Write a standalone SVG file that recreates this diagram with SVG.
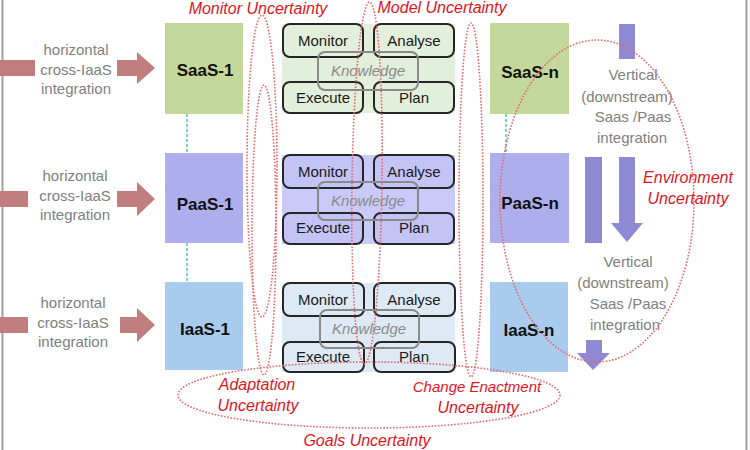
<svg xmlns="http://www.w3.org/2000/svg" width="750" height="450" viewBox="0 0 750 450">
<defs>
<style>
.gt{font-family:"Liberation Sans",Arial,sans-serif;font-size:15px;fill:#808080;text-anchor:middle}
.bl{font-family:"Liberation Sans",Arial,sans-serif;font-size:17px;font-weight:bold;fill:#111;text-anchor:middle}
.mt{font-family:"Liberation Sans",Arial,sans-serif;font-size:15px;fill:#1a1a1a;text-anchor:middle}
.kt{font-family:"Liberation Sans",Arial,sans-serif;font-size:15px;font-style:italic;fill:#8a8a8a;text-anchor:middle}
.rt{font-family:"Liberation Sans",Arial,sans-serif;font-size:16px;font-style:italic;fill:#e0141e;text-anchor:middle}
.mb{stroke:#262626;stroke-width:2}
.kb{fill:none;stroke:#8a8a8a;stroke-width:2}
.dot{fill:none;stroke:#e36a6a;stroke-width:1.6;stroke-dasharray:1.6 1.6}
.ha{fill:#c07f7e}
.va{fill:#8f88d2}
.tl{stroke:#2bb5a8;stroke-width:1.2;stroke-dasharray:3 2}
</style>
</defs>
<rect width="750" height="450" fill="#fff"/>
<line x1="2.5" y1="0" x2="2.5" y2="450" stroke="#a0a0a0" stroke-width="2"/>
<line x1="746.5" y1="0" x2="746.5" y2="450" stroke="#a0a0a0" stroke-width="2"/>

<g id="connectors">
<line class="tl" x1="187" y1="114" x2="187" y2="153"/>
<line class="tl" x1="187" y1="243" x2="187" y2="282"/>
<line class="tl" x1="506" y1="114" x2="506" y2="153"/>
</g>

<g id="horizontal-1">
<rect class="ha" x="0" y="60" width="35" height="16"/>
<text class="gt" x="76" y="55">horizontal</text>
<text class="gt" x="76" y="75">cross-IaaS</text>
<text class="gt" x="76" y="94">integration</text>
<polygon class="ha" points="117,60 137,60 137,52 155,68 137,84 137,76 117,76"/>
</g>
<g id="horizontal-2">
<rect class="ha" x="0" y="191" width="28" height="16"/>
<text class="gt" x="75" y="181">horizontal</text>
<text class="gt" x="75" y="201">cross-IaaS</text>
<text class="gt" x="75" y="220">integration</text>
<polygon class="ha" points="117,191 137,191 137,182 155,199 137,216 137,207 117,207"/>
</g>
<g id="horizontal-3">
<rect class="ha" x="0" y="317" width="28" height="16"/>
<text class="gt" x="73" y="308">horizontal</text>
<text class="gt" x="73" y="328">cross-IaaS</text>
<text class="gt" x="73" y="347">integration</text>
<polygon class="ha" points="120,317 137,317 137,308 155,325 137,342 137,333 120,333"/>
</g>

<g id="saas-1"><rect x="165" y="23" width="78" height="91" fill="#c4d89c"/><text class="bl" x="205" y="76">SaaS-1</text></g>
<g id="paas-1"><rect x="165" y="153" width="78" height="90" fill="#aeaeed"/><text class="bl" x="205" y="210">PaaS-1</text></g>
<g id="iaas-1"><rect x="165" y="282" width="78" height="88" fill="#a9cbee"/><text class="bl" x="205" y="335">IaaS-1</text></g>
<g id="saas-n"><rect x="490" y="23" width="79" height="91" fill="#c4d89c"/><text class="bl" x="530" y="78">SaaS-n</text></g>
<g id="paas-n"><rect x="490" y="153" width="79" height="90" fill="#aeaeed"/><text class="bl" x="530" y="209">PaaS-n</text></g>
<g id="iaas-n"><rect x="490" y="282" width="78" height="90" fill="#a9cbee"/><text class="bl" x="529" y="336">IaaS-n</text></g>

<g id="mapek-1">
<rect x="282" y="24" width="173" height="89" fill="#e2efda"/>
<rect class="mb" x="283" y="24" width="80" height="33" rx="7" fill="#e2efda"/>
<rect class="mb" x="374" y="24" width="80" height="33" rx="7" fill="#e2efda"/>
<rect class="mb" x="283" y="82" width="80" height="31" rx="7" fill="#e2efda"/>
<rect class="mb" x="374" y="82" width="80" height="31" rx="7" fill="#e2efda"/>
<rect class="kb" x="318" y="52" width="100" height="38" rx="7"/>
<text class="mt" x="323" y="46">Monitor</text>
<text class="mt" x="414" y="46">Analyse</text>
<text class="mt" x="323" y="103">Execute</text>
<text class="mt" x="414" y="103">Plan</text>
<text class="kt" x="368" y="76">Knowledge</text>
</g>
<g id="mapek-2">
<rect x="282" y="155" width="173" height="89" fill="#cacaf8"/>
<rect class="mb" x="283" y="155" width="80" height="33" rx="7" fill="#c3c3f5"/>
<rect class="mb" x="374" y="155" width="80" height="33" rx="7" fill="#c3c3f5"/>
<rect class="mb" x="283" y="213" width="80" height="31" rx="7" fill="#c3c3f5"/>
<rect class="mb" x="374" y="213" width="80" height="31" rx="7" fill="#c3c3f5"/>
<rect class="kb" x="318" y="182" width="100" height="38" rx="7"/>
<text class="mt" x="323" y="177">Monitor</text>
<text class="mt" x="414" y="177">Analyse</text>
<text class="mt" x="323" y="233">Execute</text>
<text class="mt" x="414" y="233">Plan</text>
<text class="kt" x="368" y="206">Knowledge</text>
</g>
<g id="mapek-3">
<rect x="282" y="283" width="173" height="89" fill="#ddeaf6"/>
<rect class="mb" x="283" y="283" width="81" height="33" rx="7" fill="#ddeaf6"/>
<rect class="mb" x="374" y="283" width="81" height="33" rx="7" fill="#ddeaf6"/>
<rect class="mb" x="283" y="342" width="81" height="30" rx="7" fill="#ddeaf6"/>
<rect class="mb" x="374" y="342" width="81" height="30" rx="7" fill="#ddeaf6"/>
<rect class="kb" x="320" y="310" width="99" height="38" rx="7"/>
<text class="mt" x="323" y="305">Monitor</text>
<text class="mt" x="414" y="305">Analyse</text>
<text class="mt" x="323" y="362">Execute</text>
<text class="mt" x="414" y="362">Plan</text>
<text class="kt" x="369" y="334">Knowledge</text>
</g>

<g id="vertical-1">
<rect class="va" x="619" y="24" width="16" height="35"/>
<text class="gt" x="633" y="80">Vertical</text>
<text class="gt" x="627" y="102">(downstream)</text>
<text class="gt" x="633" y="122">Saas /Paas</text>
<text class="gt" x="632" y="143">integration</text>
</g>
<g id="vertical-2">
<rect class="va" x="585" y="157" width="17" height="86"/>
<polygon class="va" points="619,157 635,157 635,223 643,223 627,242 611,223 619,223"/>
<text class="gt" x="628" y="267">Vertical</text>
<text class="gt" x="623" y="288">(downstream)</text>
<text class="gt" x="628" y="309">Saas /Paas</text>
<text class="gt" x="625" y="330">integration</text>
</g>
<g id="vertical-3">
<polygon class="va" points="586,340 602,340 602,353 610,353 593,370 577,353 586,353"/>
</g>

<g id="uncertainties">
<ellipse class="dot" cx="262" cy="166" rx="15" ry="151"/>
<ellipse class="dot" cx="264" cy="230" rx="12" ry="145"/>
<ellipse class="dot" cx="367" cy="183" rx="15" ry="181" transform="rotate(0.8 367 183)"/>
<ellipse class="dot" cx="471" cy="200" rx="12" ry="177"/>
<ellipse class="dot" cx="597" cy="201" rx="97" ry="161"/>
<ellipse class="dot" cx="369" cy="395" rx="191" ry="33"/>
</g>

<g id="labels">
<text class="rt" x="258" y="14">Monitor Uncertainty</text>
<text class="rt" x="442" y="13">Model Uncertainty</text>
<text class="rt" x="688" y="183">Environment</text>
<text class="rt" x="688" y="204">Uncertainty</text>
<text class="rt" x="257" y="390">Adaptation</text>
<text class="rt" x="258" y="411">Uncertainty</text>
<text class="rt" x="477" y="392" style="font-size:15px">Change Enactment</text>
<text class="rt" x="478" y="413">Uncertainty</text>
<text class="rt" x="367" y="446">Goals Uncertainty</text>
</g>
</svg>
